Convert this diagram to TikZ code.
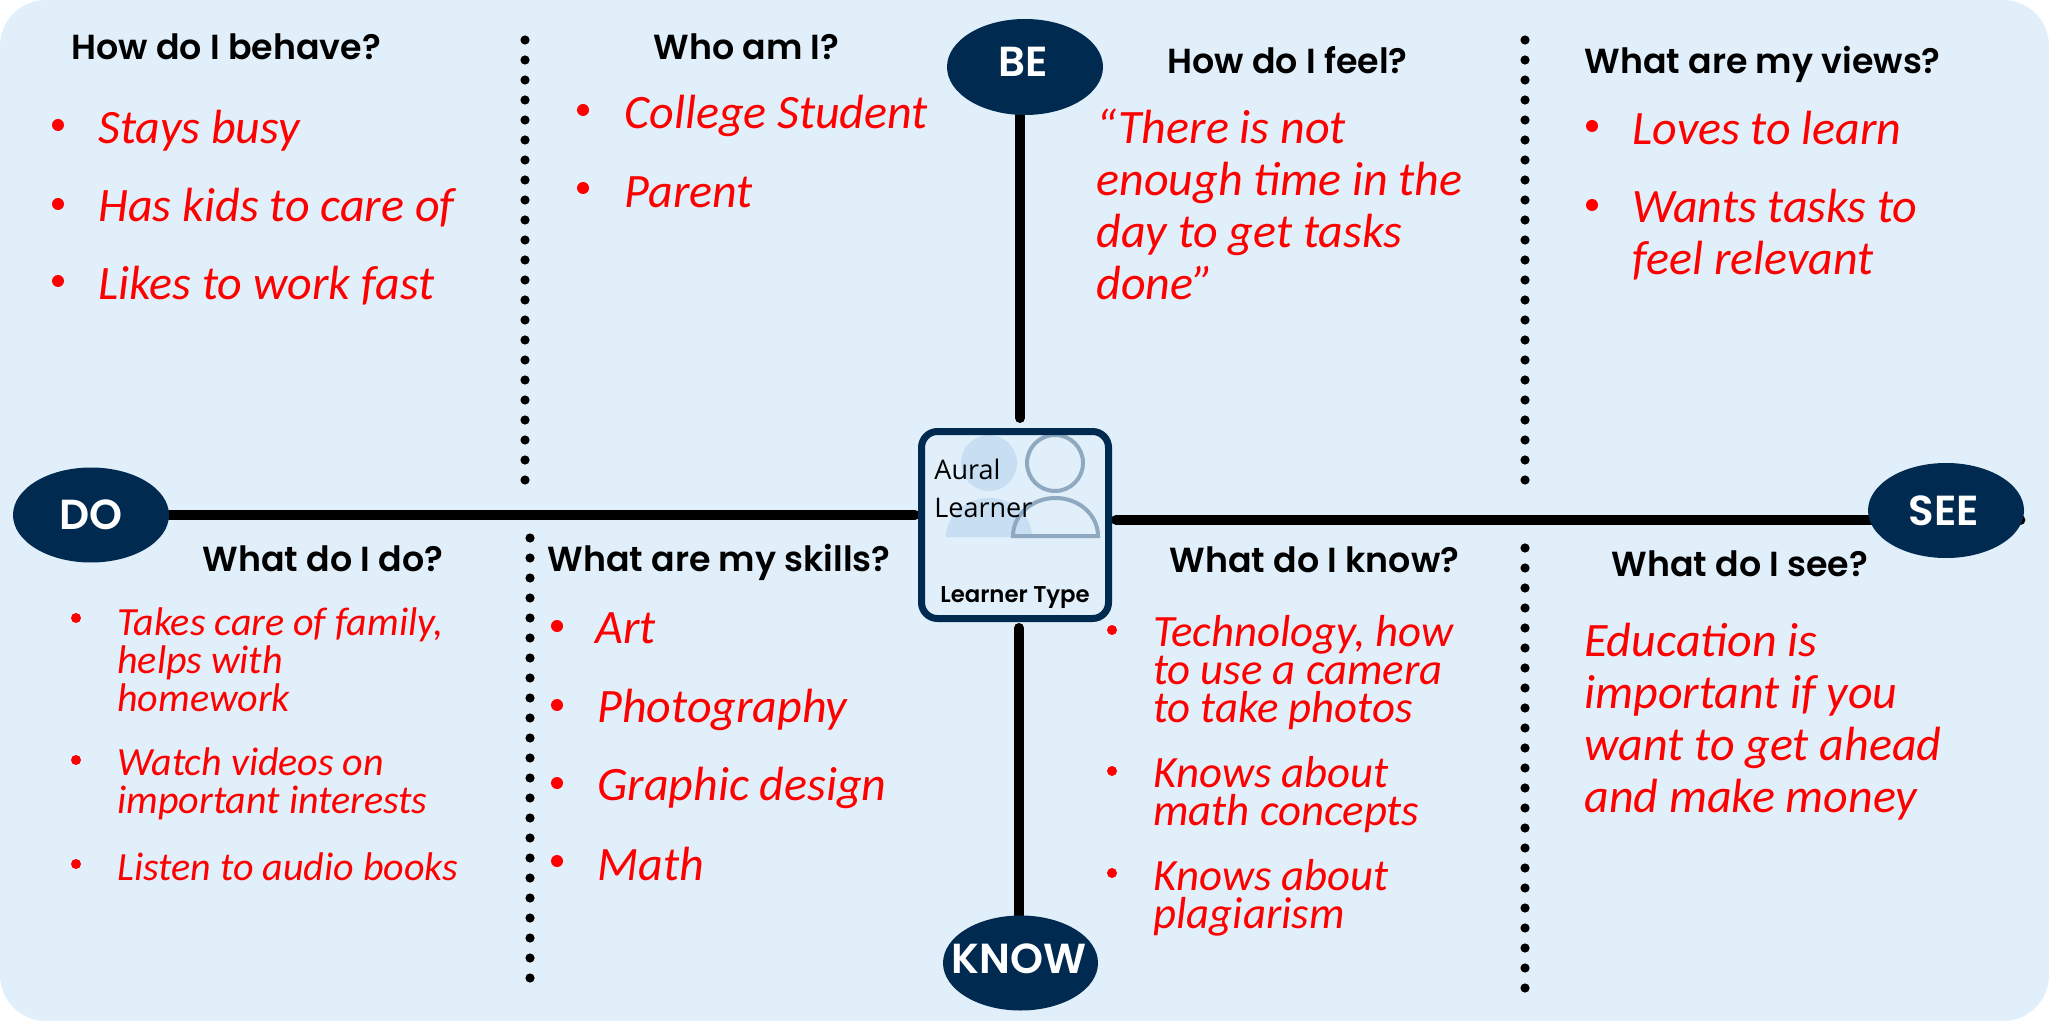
\documentclass[tikz,border=0pt]{standalone}
\usepackage{fontspec}
\setmainfont{Carlito}
\newfontfamily\headfont{Poppins SemiBold}
\newfontfamily\boxfont{Open Sans}
\usetikzlibrary{backgrounds, positioning, shapes.geometric}
\definecolor{paleblue}{HTML}{E0EFF9}
\definecolor{navy}{HTML}{002A4F}
\definecolor{iconlight}{HTML}{C8DFF3}
\definecolor{icongrey}{HTML}{8FA9C1}
\tikzstyle{heading} = [anchor=base west, inner sep=0pt, font=\headfont\fontsize{17.4}{20}\selectfont]
\tikzstyle{big} = [anchor=base west, inner sep=0pt, align=left, text=red, font=\itshape\fontsize{24}{26}\selectfont]
\tikzstyle{mid} = [anchor=base west, inner sep=0pt, align=left, text=red, font=\itshape\fontsize{22.4}{19}\selectfont]
\tikzstyle{small} = [anchor=base west, inner sep=0pt, align=left, text=red, font=\itshape\fontsize{20}{19}\selectfont]
\tikzstyle{dot} = [circle, fill=red, inner sep=0pt, minimum size=6pt]
\tikzstyle{spot} = [dot, minimum size=5pt]
\tikzstyle{pole} = [ellipse, fill=navy, inner sep=0pt]
\tikzstyle{poletext} = [anchor=base, inner sep=0pt, text=white, font=\headfont\fontsize{21}{22}\selectfont]
\tikzstyle{spoke} = [line width=5pt, line cap=round]
\tikzstyle{dots} = [line width=4.6pt, line cap=round, dash pattern=on 0pt off 10pt]
\begin{document}
\begin{tikzpicture}[x=0.5pt, y=-0.5pt]
    \useasboundingbox (0,0) rectangle (2049,1021);

    \node (hub) [draw=navy, line width=3.5pt, rounded corners=8pt, minimum size=93.5pt, inner sep=0pt] at (1015,525) {};
    \node (be) [pole, minimum width=78pt, minimum height=48pt] at (1025,67) {};
    \node (do) [pole, minimum width=78pt, minimum height=47.5pt] at (91,515) {};
    \node (see) [pole, minimum width=78pt, minimum height=47.5pt] at (1946,510.5) {};
    \node (know) [pole, minimum width=77.5pt, minimum height=47.5pt] at (1020.5,963) {};
    \node (be text) [poletext] at (1023,77) {BE};
    \node (do text) [poletext] at (91,529) {DO};
    \node (see text) [poletext] at (1944,525) {SEE};
    \node (know text) [poletext] at (1019,973) {KNOW};

    \coordinate (top end) at (1020,418);
    \coordinate (left end) at (915,515);
    \coordinate (right end) at (1116,520);
    \coordinate (bottom end) at (1019,628);

    % Headings.
    \node (behave) [heading] at (71,60) {How do I behave?};
    \node (who) [heading] at (653,60) {Who am I?};
    \node (feel) [heading] at (1167,74) {How do I feel?};
    \node (views) [heading] at (1584,74) {What are my views?};
    \node (does) [heading] at (202,571) {What do I do?};
    \node (skills) [heading] at (547,571) {What are my skills?};
    \node (knows) [heading] at (1169,572) {What do I know?};
    \node (sees) [heading] at (1611,576) {What do I see?};

    % Top left.
    \node (behave a) [big] at (98,144) {Stays busy};
    \node (behave b) [big] at (98,222) {Has kids to care of};
    \node (behave c) [big] at (98,300) {Likes to work fast};
    \node (behave a dot) [dot] at (58,125) {};
    \node (behave b dot) [dot] at (58,204) {};
    \node (behave c dot) [dot] at (58,281) {};
    \node (who a) [big] at (624,129) {College Student};
    \node (who b) [big] at (624,208) {Parent};
    \node (who a dot) [dot] at (583,110) {};
    \node (who b dot) [dot] at (583,188) {};

    % Top right.
    \node (quote) [big] at (1096,300) {“There is not\\enough time in the\\day to get tasks\\done”};
    \node (views a) [big] at (1632,145) {Loves to learn};
    \node (views b) [big] at (1632,275) {Wants tasks to\\feel relevant};
    \node (views a dot) [dot] at (1592,126) {};
    \node (views b dot) [dot] at (1592,205) {};

    % Bottom left.
    \node (does a) [small] at (117,711) {Takes care of family,\\helps with\\homework};
    \node (does b) [small] at (117,813) {Watch videos on\\important interests};
    \node (does c) [small] at (117,880) {Listen to audio books};
    \node (does a dot) [spot] at (76,618) {};
    \node (does b dot) [spot] at (76,760) {};
    \node (does c dot) [spot] at (76,864) {};
    \node (skills a) [big] at (595,643) {Art};
    \node (skills b) [big] at (597,722) {Photography};
    \node (skills c) [big] at (597,800) {Graphic design};
    \node (skills d) [big] at (597,880) {Math};
    \node (skills a dot) [dot] at (557,626) {};
    \node (skills b dot) [dot] at (557,705) {};
    \node (skills c dot) [dot] at (557,783) {};
    \node (skills d dot) [dot] at (557,861) {};

    % Bottom right.
    \node (knows a) [mid] at (1153,722) {Technology, how\\to use a camera\\to take photos};
    \node (knows b) [mid] at (1153,825) {Knows about\\math concepts};
    \node (knows c) [mid] at (1153,928) {Knows about\\plagiarism};
    \node (knows a dot) [spot] at (1112,630) {};
    \node (knows b dot) [spot] at (1112,771) {};
    \node (knows c dot) [spot] at (1112,873) {};
    \node (sees a) [big] at (1584,812) {Education is\\important if you\\want to get ahead\\and make money};

    % Learner box.
    \node (aural) [anchor=base west, inner sep=0pt, align=left, font=\boxfont\fontsize{13.5}{19}\selectfont] at (934,517) {Aural\\Learner};
    \node (type) [anchor=base, inner sep=0pt, font=\headfont\fontsize{11.4}{12}\selectfont] at (1015,602) {Learner Type};

    \begin{scope}[on background layer]
        \fill [paleblue, rounded corners=23pt] (0,0) rectangle (2049,1021);
        \fill [iconlight] (989,463) circle [radius=14pt];
        \fill [iconlight] (946,537) arc [start angle=180, end angle=0, x radius=21.5pt, y radius=19.5pt] -- cycle;
        \draw [icongrey, line width=2pt] (1055,463) circle [radius=14pt];
        \draw [icongrey, line width=2pt] (1013,536) arc [start angle=180, end angle=0, x radius=21.25pt, y radius=19pt] -- cycle;

        % Arrows.
        \draw [spoke] (be.south -| top end) -- (top end);
        \draw [spoke] (do.east |- left end) -- (left end);
        \draw [spoke, shorten >=2pt] (right end) -- (see.east |- right end);
        \draw [spoke] (bottom end) -- (know.north -| bottom end);

        % Dotted rules.
        \coordinate (rule a top) at (525,40);
        \coordinate (rule a end) at (525,481);
        \coordinate (rule b top) at (1525,40);
        \coordinate (rule b end) at (1525,481);
        \coordinate (rule c top) at (530,538);
        \coordinate (rule c end) at (530,979);
        \coordinate (rule d top) at (1525,548);
        \coordinate (rule d end) at (1525,989);
        \draw [dots] (rule a top) -- (rule a end);
        \draw [dots] (rule b top) -- (rule b end);
        \draw [dots] (rule c top) -- (rule c end);
        \draw [dots] (rule d top) -- (rule d end);
    \end{scope}
\end{tikzpicture}
\end{document}
